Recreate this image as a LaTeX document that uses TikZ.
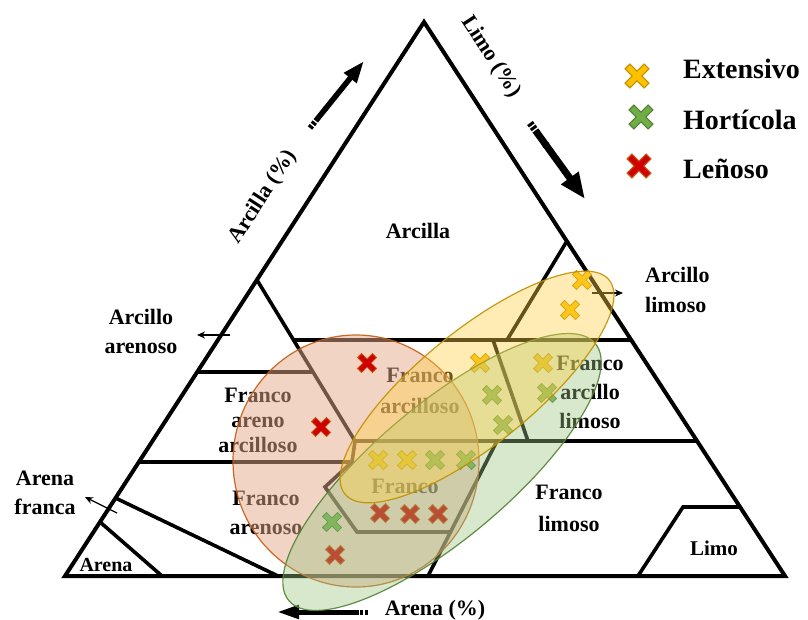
\documentclass[tikz,border=0pt]{standalone}
\usepackage{fontspec}
\setmainfont{Liberation Serif}
\usetikzlibrary{arrows.meta,calc}
\definecolor{extF}{HTML}{FFC000}
\definecolor{extD}{HTML}{BF9000}
\definecolor{horF}{HTML}{70AD47}
\definecolor{horD}{HTML}{548235}
\definecolor{lenF}{HTML}{D00000}
\definecolor{lenD}{HTML}{C55A11}
\definecolor{ellR}{HTML}{E5A989}
\definecolor{ellRD}{HTML}{C55A11}
\definecolor{ellG}{HTML}{9BC582}
\definecolor{ellGD}{HTML}{548235}
\definecolor{ellY}{HTML}{FFCF43}
\definecolor{ellYD}{HTML}{BF9000}
\tikzset{
  pics/px/.style 2 args={code={
    \draw[line width=6.6pt,#2] (-7.8,-7.8) -- (7.8,7.8) (-7.8,7.8) -- (7.8,-7.8);
    \draw[line width=4.6pt,#1] (-7,-7) -- (7,7) (-7,7) -- (7,-7);
  }},
  pics/lx/.style 2 args={code={
    \draw[line width=8pt,#2] (-9.9,-9.9) -- (9.9,9.9) (-9.9,9.9) -- (9.9,-9.9);
    \draw[line width=5.4pt,#1] (-9,-9) -- (9,9) (-9,9) -- (9,-9);
  }},
}
\begin{document}
\begin{tikzpicture}[x=1pt,y=-1pt,
  tri/.style={line width=4pt,line join=miter},
  zone/.style={line width=3.6pt,line join=miter},
  lbl/.style={font=\bfseries\fontsize{22}{29}\selectfont,align=center,anchor=base,inner sep=0pt},
  leg/.style={font=\bfseries\fontsize{28}{34}\selectfont,anchor=base west,inner sep=0pt},
  thinarrow/.style={line width=1.3pt,-{Stealth[length=8pt,width=7pt]}},
  bigarrow/.style={-{Triangle[length=22pt,width=15pt]}},
  bigtail/.style={dash pattern=on 3pt off 1.6pt on 3pt off 1.6pt on 80pt}]
\useasboundingbox (0,0) rectangle (808,620);
% triangle
\coordinate (A) at (65,576);
\coordinate (B) at (785,576);
\coordinate (C) at (424,22);
\draw[tri] (A) -- (B) -- (C) -- cycle;
% texture zones
\draw[zone] (257,280) -- (355,441);
\draw[zone] (293.5,340) -- (631,340);
\draw[zone] (567,241) -- (507,340);
\draw[zone] (197,372) -- (313,372);
\draw[zone] (355,441) -- (697,441);
\draw[zone] (493,340) -- (528,441);
\draw[zone] (139,462) -- (352,462);
\draw[zone] (355,441) -- (352,462) -- (325,487) -- (357,532) -- (450.5,532);
\draw[zone] (497,441) -- (428,576);
\draw[zone] (115.5,498) -- (278,576);
\draw[zone] (100,522) -- (162,576);
\draw[zone] (740,507) -- (683,507) -- (638,576);
% labels (anchor base = last line's baseline)
\node[lbl] (arcilla) at (418,239) {Arcilla};
\node[lbl] (arcaren) at (141,353) {Arcillo\\arenoso};
\node[lbl,font=\bfseries\fontsize{22}{25}\selectfont] (faa) at (258,452) {Franco\\areno\\arcilloso};
\node[lbl] (faren) at (266,534) {Franco\\arenoso};
\node[lbl] (afr) at (45,514) {Arena\\franca};
\node[lbl,font=\bfseries\fontsize{20}{24}\selectfont] (arena) at (106,571) {Arena};
\node[lbl,font=\bfseries\fontsize{22}{31}\selectfont] (farc) at (420,413) {Franco\\arcilloso};
\node[lbl] (franco) at (405,493) {Franco};
\node[lbl] (fal) at (590,428) {Franco\\arcillo\\limoso};
\node[lbl,font=\bfseries\fontsize{22}{32}\selectfont] (flim) at (569,531) {Franco\\limoso};
\node[lbl,font=\bfseries\fontsize{21}{24}\selectfont] (limo) at (714,555) {Limo};
\node[lbl,align=left,anchor=base west] (arclim) at (645,312) {Arcillo\\limoso};
\node[lbl] (arenap) at (435,615) {Arena (\%)};
\node[lbl,anchor=center,rotate=57] (arcp) at (263,197) {Arcilla (\%)};
\node[lbl,anchor=center,rotate=-57] (limop) at (491,57) {Limo (\%)};
% thin arrows
\coordinate (t1a) at (230,335); \coordinate (t1b) at (197,335);
\draw[thinarrow] (t1a) -- (t1b);
\coordinate (t2a) at (592,293); \coordinate (t2b) at (623,293);
\draw[thinarrow] (t2a) -- (t2b);
\coordinate (t3a) at (117,513); \coordinate (t3b) at (85,497);
\draw[thinarrow] (t3a) -- (t3b);
% thick arrows
\coordinate (ct) at (310,128); \coordinate (ch) at (364,61);
\draw[bigtail,line width=5.5pt] (ct) -- ($(ct)!0.3!(ch)$);
\draw[bigarrow,line width=5.5pt] ($(ct)!0.28!(ch)$) -- (ch);
\coordinate (lt) at (530,123); \coordinate (lh) at (585,199);
\draw[bigtail,line width=7pt] (lt) -- ($(lt)!0.3!(lh)$);
\draw[line width=7pt,-{Triangle[length=26pt,width=20pt]}] ($(lt)!0.28!(lh)$) -- (lh);
\coordinate (at) at (368,612); \coordinate (ah) at (277,612);
\draw[bigtail,line width=5pt] (at) -- ($(at)!0.3!(ah)$);
\draw[line width=5pt,-{Triangle[length=22pt,width=13pt]}] ($(at)!0.28!(ah)$) -- (ah);
% red ellipse (under the marks)
\filldraw[fill=ellR,fill opacity=0.5,draw=ellRD,draw opacity=0.9,line width=1.2pt] (356,461) ellipse [x radius=123,y radius=126];
% data points
\pic (e1) at (582,280) {px={extF}{extD}};
\pic (e2) at (570,310) {px={extF}{extD}};
\pic (e3) at (480,363) {px={extF}{extD}};
\pic (e4) at (543,363) {px={extF}{extD}};
\pic (e5) at (378,460) {px={extF}{extD}};
\pic (e6) at (407,460) {px={extF}{extD}};
\pic (h1) at (492,395) {px={horF}{horD}};
\pic (h2) at (547,393) {px={horF}{horD}};
\pic (h3) at (503,425) {px={horF}{horD}};
\pic (h4) at (435,460) {px={horF}{horD}};
\pic (h5) at (466,460) {px={horF}{horD}};
\pic (h6) at (332,522) {px={horF}{horD}};
\pic (l1) at (367,363) {px={lenF}{lenD}};
\pic (l2) at (321,427) {px={lenF}{lenD}};
\pic (l3) at (380,513) {px={lenF}{lenD}};
\pic (l4) at (410,514) {px={lenF}{lenD}};
\pic (l5) at (438,514) {px={lenF}{lenD}};
\pic (l6) at (335,555) {px={lenF}{lenD}};
% green and yellow ellipses
\filldraw[fill=ellG,fill opacity=0.4,draw=ellGD,draw opacity=0.9,line width=1.2pt,rotate around={40:(442,472)}] (442,472) ellipse [x radius=200,y radius=67];
\filldraw[fill=ellY,fill opacity=0.4,draw=ellYD,draw opacity=0.9,line width=1.2pt,rotate around={39:(477,387)}] (477,387) ellipse [x radius=170,y radius=57];
% legend
\pic (g1) at (637,76) {lx={extF}{extD}};
\pic (g2) at (641,117) {lx={horF}{horD}};
\pic (g3) at (639,166) {lx={lenF}{lenD}};
\node[leg] (lg1) at (683,79) {Extensivo};
\node[leg] (lg2) at (683,130) {Hortícola};
\node[leg] (lg3) at (683,179) {Leñoso};
\end{tikzpicture}
\end{document}
